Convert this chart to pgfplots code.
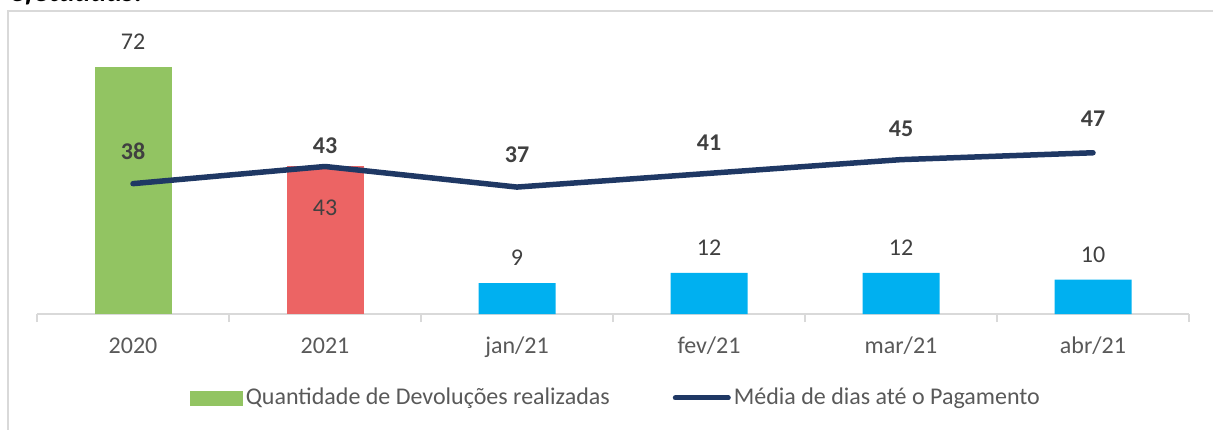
\documentclass[border=0pt]{standalone}
\usepackage{fontspec}
\setmainfont{Carlito}
\usepackage{pgfplots}
\pgfplotsset{compat=1.18}
\definecolor{cgreen}{HTML}{92C462}
\definecolor{cred}{HTML}{EC6464}
\definecolor{cblue}{HTML}{00B0F0}
\definecolor{navy}{HTML}{1F3864}
\definecolor{gridc}{HTML}{D9D9D9}
\definecolor{txt}{HTML}{595959}
\definecolor{num}{HTML}{404040}
\begin{document}
\begin{tikzpicture}
\begin{axis}[
  /pgf/number format/assume math mode=true,
  scale only axis,
  width=576bp, height=145.8bp,
  at={(18.5bp,58bp)}, anchor=south west,
  xmin=-0.5, xmax=5.5, ymin=0, ymax=85,
  enlargelimits=false,
  clip=false,
  axis x line=bottom, axis y line=none,
  x axis line style={-, draw=gridc, line width=1bp},
  ytick=\empty,
  xtick={0,...,5},
  xticklabels={2020,2021,jan/21,fev/21,mar/21,abr/21},
  major tick length=0pt,
  minor xtick={-0.5,0.5,...,5.5},
  minor tick length=4bp,
  tick align=outside,
  minor tick style={draw=gridc, line width=1bp},
  major tick style={draw=none},
  xticklabel style={font=\fontsize{12bp}{14bp}\selectfont, text=txt, anchor=base, yshift=-19.5bp},
  ybar, bar width=38.5bp, bar shift=0pt,
  legend columns=2,
  legend style={at={(0.503,-0.288)}, anchor=center, draw=none, fill=none,
    font=\fontsize{12bp}{14bp}\selectfont, text=txt,
    nodes={inner sep=1.5bp},
    /tikz/every even column/.append style={column sep=30bp}},
]
\addplot[forget plot, fill=cgreen, draw=none, nodes near coords,
  every node near coord/.append style={anchor=center, yshift=12.5bp, text=num, font=\fontsize{12bp}{14bp}\selectfont}]
  coordinates {(0,72)};
\addplot[forget plot, fill=cred, draw=none, nodes near coords,
  every node near coord/.append style={anchor=center, yshift=-20.5bp, text=num, font=\fontsize{12bp}{14bp}\selectfont}]
  coordinates {(1,43)};
\addplot[forget plot, fill=cblue, draw=none, nodes near coords,
  every node near coord/.append style={anchor=center, yshift=12.5bp, text=num, font=\fontsize{12bp}{14bp}\selectfont}]
  coordinates {(2,9) (3,12) (4,12) (5,10)};
\addplot[forget plot, sharp plot, draw=navy, line width=2.75bp, line join=round, line cap=round, mark=none,
  nodes near coords,
  visualization depends on={value \thisrow{off} \as \myoff},
  every node near coord/.append style={anchor=center, yshift={\myoff bp}, text=num, font=\fontsize{12bp}{14bp}\selectfont\bfseries}]
  table {
x y off
0 38 16
1 43 10.5
2 37 16
3 41 15.5
4 45 15.5
5 47 17
};
\addlegendimage{legend image code/.code={\fill[cgreen] (0bp,-3.5bp) rectangle (26bp,3.5bp);}}
\addlegendentry{Quantidade de Devoluções realizadas}
\addlegendimage{legend image code/.code={\draw[navy, line width=2.5bp, line cap=round] (1bp,0bp) -- (27.5bp,0bp);}}
\addlegendentry{Média de dias até o Pagamento}
\end{axis}
\draw[gridc, line width=1bp] (4bp,0bp) -- (4bp,209.5bp) -- (606.5bp,209.5bp);
\node[anchor=base west, inner sep=0pt, font=\fontsize{15bp}{17bp}\selectfont\bfseries\itshape, text=black] at (5bp,214bp) {efetuadas.};
\pgfresetboundingbox
\useasboundingbox (0bp,0bp) rectangle (606.5bp,215bp);
\end{tikzpicture}
\end{document}
